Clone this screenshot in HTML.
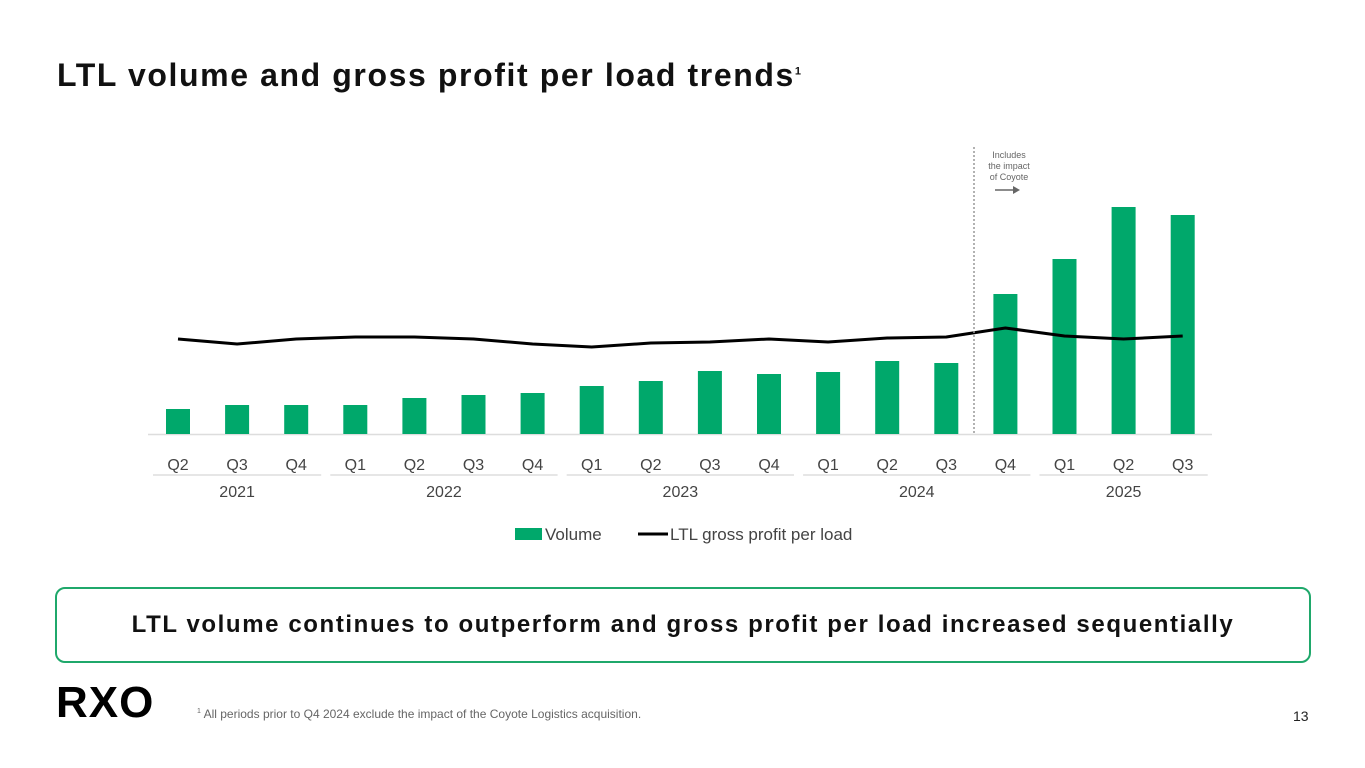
<!DOCTYPE html>
<html><head><meta charset="utf-8"><style>
body{margin:0;width:1365px;height:768px;background:#fff;font-family:"Liberation Sans",sans-serif;position:relative;overflow:hidden}
.t{position:absolute}
</style></head><body>
<div class="t" style="left:57px;top:57px;font-size:32px;letter-spacing:1.6px;font-weight:bold;color:#111">LTL volume and gross profit per load trends<sup style="font-size:11px">1</sup></div>
<svg class="t" style="left:0;top:0" width="1365" height="580">
<g id="g"></g>
</svg>
<div class="t" style="left:55px;top:587px;width:1252px;height:72px;border:2px solid #1fa86b;border-radius:10px;display:flex;align-items:center;justify-content:center;font-size:24px;letter-spacing:1.6px;font-weight:bold;color:#111">LTL volume continues to outperform and gross profit per load increased sequentially</div>
<div class="t" style="left:56px;top:680px;font-size:44px;font-weight:900;letter-spacing:1px;color:#000;line-height:46px">RXO</div>
<div class="t" style="left:197px;top:707px;font-size:12px;color:#666"><sup style="font-size:7px">1</sup> All periods prior to Q4 2024 exclude the impact of the Coyote Logistics acquisition.</div>
<div class="t" style="left:1293px;top:708px;font-size:14px;color:#222">13</div>
<script>
const quarters=["Q2","Q3","Q4","Q1","Q2","Q3","Q4","Q1","Q2","Q3","Q4","Q1","Q2","Q3","Q4","Q1","Q2","Q3"];
const volume=[25,29,29,29,36,39,41,48,53,63,60,62,73,71,140,175,227,219];
const gppl=[95,90,95,97,97,95,90,87,91,92,95,92,96,97,106,98,95,98];
const years=["2021","2022","2023","2024","2025"];
const yearSpans=[[0,2],[3,6],[7,10],[11,14],[15,17]];
const NS="http://www.w3.org/2000/svg",g=document.getElementById('g');
const x=i=>178+i*59.1, base=434, yV=v=>base-v, yL=v=>434-v;
function el(t,a){const e=document.createElementNS(NS,t);for(const k in a)e.setAttribute(k,a[k]);g.appendChild(e);return e;}
let ax=el('line',{x1:148,x2:1212,y1:434.5,y2:434.5,stroke:'#ddd','stroke-width':1.5});


volume.forEach((v,i)=>{const r=el('rect',{x:x(i)-12,y:yV(v),width:24,height:v,fill:'#00a86b'});


const t=el('text',{x:x(i),y:470,'text-anchor':'middle','font-size':16,fill:'#444'});t.textContent=quarters[i];

});
let d=gppl.map((v,i)=>(i?'L':'M')+x(i)+','+yL(v)).join('');
let p=el('path',{d:d,fill:'none',stroke:'#000','stroke-width':3,'stroke-linejoin':'round'});


years.forEach((y,k)=>{const a=x(yearSpans[k][0])-25,b=x(yearSpans[k][1])+25;
const l=el('line',{x1:a,x2:b,y1:475,y2:475,stroke:'#ddd','stroke-width':1.5});


const t=el('text',{x:(a+b)/2,y:497,'text-anchor':'middle','font-size':16,fill:'#444'});t.textContent=y;

});
let dv=el('line',{x1:974,x2:974,y1:147,y2:434,stroke:'#999','stroke-width':1.5,'stroke-dasharray':'2,2'});


["Includes","the impact","of Coyote"].forEach((s,i)=>{const t=el('text',{x:1009,y:158+i*11,'text-anchor':'middle','font-size':9,fill:'#666'});t.textContent=s;

});
el('line',{x1:995,x2:1015,y1:190,y2:190,stroke:'#666','stroke-width':1.5});
el('path',{d:'M1013,186L1020,190L1013,194Z',fill:'#666'});
let lr=el('rect',{x:515,y:528,width:27,height:12,fill:'#00a86b'});


let t1=el('text',{x:545,y:540,'font-size':17,fill:'#444'});t1.textContent='Volume';
let ll=el('line',{x1:638,x2:668,y1:534,y2:534,stroke:'#000','stroke-width':3});


let t2=el('text',{x:670,y:540,'font-size':17,fill:'#444'});t2.textContent='LTL gross profit per load';
</script>
</body></html>
